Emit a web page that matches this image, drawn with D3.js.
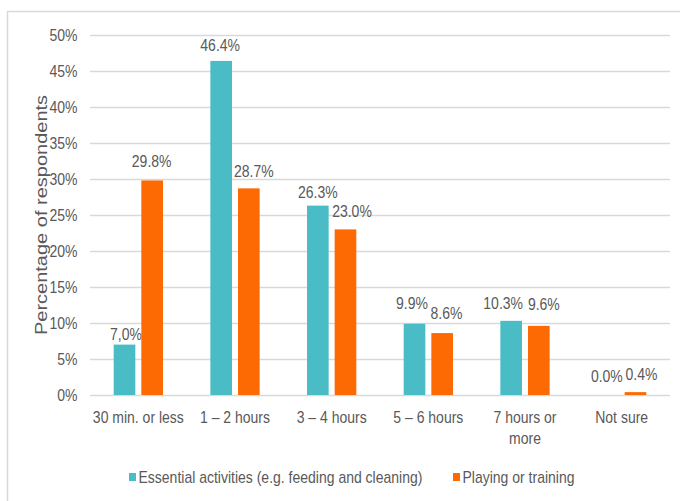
<!DOCTYPE html>
<html>
<head>
<meta charset="utf-8">
<script src="https://cdn.jsdelivr.net/npm/d3@7/dist/d3.min.js"></script>
<style>
  html, body { margin: 0; padding: 0; background: #fff; }
  svg { display: block; }
  text { font-family: "Liberation Sans", Arial, sans-serif; fill: #595959; }
</style>
</head>
<body>
<svg id="chart" width="680" height="501"></svg>
<script>
// Time spent per day on the dog, by activity
const categories = ["30 min. or less", "1 – 2 hours", "3 – 4 hours", "5 – 6 hours", "7 hours or more", "Not sure"];
const seriesNames = ["Essential activities (e.g. feeding and cleaning)", "Playing or training"];
const essential = [7.0, 46.4, 26.3, 9.9, 10.3, 0.0];
const playing = [29.8, 28.7, 23.0, 8.6, 9.6, 0.4];
const essentialText = ["7,0%", "46.4%", "26.3%", "9.9%", "10.3%", "0.0%"];
const playingText = ["29.8%", "28.7%", "23.0%", "8.6%", "9.6%", "0.4%"];
const yTicks = [0, 5, 10, 15, 20, 25, 30, 35, 40, 45, 50];
const yTickLabels = ["0%", "5%", "10%", "15%", "20%", "25%", "30%", "35%", "40%", "45%", "50%"];
const yTitle = "Percentage of respondents";

// hand-placed offsets of the value labels, [dx, dy] in px
const essentialNudge = [[1.5, 7], [-1, 2], [0, 4], [-2.5, -3], [-8, 0], [-1, -1]];
const playingNudge = [[-0.5, -1.5], [5, 0.5], [6.5, -0.7], [4.3, -2], [5, -4], [6, 0]];

const colors = ["#4abcc6", "#fd6a04"];
const K = 1.15;        // vertical stretch of the lettering
const FS = 14;

const svg = d3.select("#chart");

// outer frame
svg.append("rect")
  .attr("x", 7.5).attr("y", 11.5).attr("width", 720).attr("height", 600)
  .attr("fill", "none").attr("stroke", "#d9d9d9").attr("stroke-width", 1.5);

const plotLeft = 90, plotRight = 670, plotTop = 35, plotBottom = 395;

const x0 = d3.scaleBand().domain(categories).range([plotLeft, plotRight])
  .paddingInner(0.49).paddingOuter(0.245);
const x1 = d3.scaleBand().domain(seriesNames).range([0, x0.bandwidth()])
  .paddingInner(0.217);
const y = d3.scaleLinear().domain([0, 50]).range([plotBottom, plotTop]);

// y axis with gridlines
const yAxis = svg.append("g")
  .attr("transform", `translate(${plotLeft},0)`)
  .call(d3.axisLeft(y).tickValues(yTicks).tickSize(-(plotRight - plotLeft))
    .tickFormat((d, i) => yTickLabels[i]));
yAxis.select(".domain").remove();
yAxis.selectAll(".tick line").attr("stroke", "#d9d9d9").attr("stroke-width", 1.5);
yAxis.selectAll(".tick text")
  .attr("x", 0).attr("dy", null).attr("y", 0)
  .attr("text-anchor", "end")
  .attr("transform", `translate(-12.5,${0.36 * FS * K}) scale(1,${K})`)
  .style("font-size", FS + "px")
  .attr("fill", "#595959");
yAxis.attr("font-family", null).attr("font-size", null);

// x axis labels
const xAxis = svg.append("g")
  .attr("transform", `translate(0,${plotBottom})`)
  .call(d3.axisBottom(x0).tickSize(0));
xAxis.select(".domain").remove();
xAxis.attr("font-family", null).attr("font-size", null);
xAxis.selectAll(".tick text").each(function (d) {
  const t = d3.select(this);
  t.text(null).attr("y", 0).attr("dy", null)
    .attr("text-anchor", "middle")
    .attr("transform", `translate(0,27.5) scale(1,${K})`)
    .style("font-size", FS + "px")
    .attr("fill", "#595959");
  // greedy word wrap to the band width
  const words = d.split(" ");
  let line = [];
  let tspan = t.append("tspan").attr("x", 0).attr("dy", 0);
  words.forEach(w => {
    line.push(w);
    tspan.text(line.join(" "));
    if (tspan.node().getComputedTextLength() > 93 && line.length > 1) {
      line.pop();
      tspan.text(line.join(" "));
      line = [w];
      tspan = t.append("tspan").attr("x", 0).attr("dy", 22 / K).text(w);
    }
  });
});

// bars
const series = [
  { name: seriesNames[0], values: essential, text: essentialText, nudge: essentialNudge, color: colors[0] },
  { name: seriesNames[1], values: playing, text: playingText, nudge: playingNudge, color: colors[1] }
];

series.forEach(s => {
  const g = svg.append("g");
  g.selectAll("rect")
    .data(categories)
    .join("rect")
    .attr("x", (c) => x0(c) + x1(s.name))
    .attr("width", x1.bandwidth())
    .attr("y", (c, i) => y(s.values[i]))
    .attr("height", (c, i) => y(0) - y(s.values[i]))
    .attr("fill", s.color);

  g.selectAll("text")
    .data(categories)
    .join("text")
    .attr("text-anchor", "middle")
    .style("font-size", FS + "px")
    .attr("transform", (c, i) => {
      const cx = x0(c) + x1(s.name) + x1.bandwidth() / 2 + s.nudge[i][0];
      const by = y(s.values[i]) - 12 + s.nudge[i][1];
      return `translate(${cx},${by}) scale(1,${K})`;
    })
    .text((c, i) => s.text[i]);
});

// y axis title
svg.append("text")
  .attr("text-anchor", "middle")
  .style("font-size", "16px")
  .attr("transform", `translate(46.5,${(plotTop + plotBottom) / 2}) scale(1,1.25) rotate(-90)`)
  .text(yTitle);

// legend
const legendItems = [
  { name: seriesNames[0], color: colors[0], x: 129 },
  { name: seriesNames[1], color: colors[1], x: 453 }
];
const lg = svg.append("g");
legendItems.forEach(it => {
  lg.append("rect")
    .attr("x", it.x).attr("y", 473).attr("width", 7).attr("height", 8)
    .attr("fill", it.color);
  lg.append("text")
    .style("font-size", FS + "px")
    .attr("transform", `translate(${it.x + 9.5},483) scale(1,${K})`)
    .text(it.name);
});
</script>
</body>
</html>
